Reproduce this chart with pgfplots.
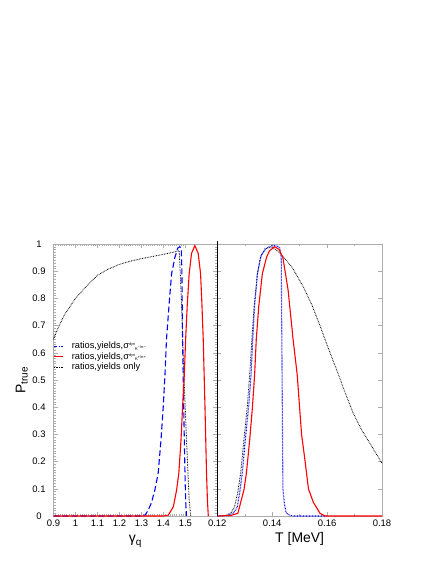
\documentclass[border=0pt]{standalone}
\usepackage{fontspec}
\setmainfont{Liberation Sans}
\usepackage{pgfplots}
\pgfplotsset{compat=1.18}
\newcommand\sig[1]{σ\raisebox{3.2bp}{\fontsize{3.8}{3}\selectfont dyn}\raisebox{-1.6bp}{\fontsize{4.2}{3}\selectfont K}\raisebox{0.9bp}{\fontsize{3.8}{3}\selectfont #1/π#1}}

\begin{document}
\begin{tikzpicture}
\useasboundingbox (0bp,0bp) rectangle (436bp,564bp);
\pgfplotsset{
  every axis/.append style={
    scale only axis, height=272bp, ymin=0, ymax=1, clip=false,
    axis line style={gray!65, line width=0.5bp},
    tick style={gray!65, line width=0.4bp},
    major tick length=4bp, minor tick length=2bp,
    tick align=inside,
    ticklabel style={font=\fontsize{9.5}{10}\selectfont, text=black},
    yticklabel style={anchor=center, xshift=-14.5bp},
    label style={font=\fontsize{14}{16}\selectfont},
    ytick={0,0.1,0.2,0.3,0.4,0.5,0.6,0.7,0.8,0.9,1},
  }
}
\begin{axis}[at={(53.5bp,48bp)}, anchor=south west, width=163.8bp,
  xmin=0.9, xmax=1.645,
  xtick={0.9,1,1.1,1.2,1.3,1.4,1.5},
  xticklabels={0.9,1,1.1,1.2,1.3,1.4,1.5},
  yticklabels={0,0.1,0.2,0.3,0.4,0.5,0.6,0.7,0.8,0.9,1},
  minor x tick num=9, minor y tick num=9,
  xlabel={γ$_{\mbox{\fontsize{10}{10}\selectfont q}}$},
  ylabel={P$_{\mbox{\fontsize{10}{10}\selectfont true}}$},
  xlabel style={at={(axis description cs:0.5,-0.099)}, anchor=base},
  ylabel style={at={(axis description cs:-0.171,0.5)}, anchor=base},
  legend cell align=left,
  legend style={at={(axis description cs:0,0.647)}, anchor=north west,
    draw=none, fill=none, inner sep=0pt, column sep=6bp, row sep=-1.8bp,
    font=\fontsize{9.3}{9}\selectfont},
]
\addlegendimage{legend image code/.code={\draw[blue, line width=1.1bp, dash pattern=on 3bp off 1.5bp on 1bp off 1.5bp] (0bp,0bp) -- (9bp,0bp);}}
\addlegendentry{ratios,yields,\sig{−}}
\addlegendimage{legend image code/.code={\draw[red, line width=1.1bp] (0bp,0bp) -- (9bp,0bp);}}
\addlegendentry{ratios,yields,\sig{+}}
\addlegendimage{legend image code/.code={\draw[black, line width=0.9bp, dash pattern=on 0.7bp off 0.9bp] (0bp,0bp) -- (9bp,0bp);}}
\addlegendentry{ratios,yields only}

\addplot[black, line width=0.85bp, dash pattern=on 0.7bp off 0.9bp, forget plot] coordinates {
(0.9,0.65) (0.92,0.69) (0.95,0.74) (1.0,0.80) (1.05,0.845) (1.1,0.885) (1.15,0.908)
(1.2,0.925) (1.25,0.937) (1.3,0.946) (1.35,0.954) (1.4,0.962) (1.44,0.969) (1.472,0.975)
(1.483,0.77) (1.493,0.52) (1.505,0.28) (1.517,0.06) (1.524,0)};

\addplot[blue, line width=1.1bp, dash pattern=on 6bp off 3bp, forget plot] coordinates {
(0.9,0) (1.30,0) (1.316,0.003) (1.33,0.02) (1.346,0.05) (1.361,0.096) (1.376,0.157)
(1.389,0.28) (1.399,0.40) (1.407,0.52) (1.414,0.65) (1.425,0.77) (1.437,0.89) (1.452,0.95)
(1.465,0.985) (1.475,0.99) (1.481,0.985) (1.484,0.9) (1.487,0.65) (1.491,0.45) (1.495,0.28)
(1.499,0.12) (1.502,0.04) (1.505,0)};

\addplot[red, line width=1.1bp, forget plot] coordinates {
(0.9,0) (1.40,0) (1.422,0.003) (1.445,0.034) (1.46,0.096) (1.47,0.157) (1.48,0.28)
(1.487,0.40) (1.495,0.52) (1.501,0.65) (1.508,0.77) (1.517,0.89) (1.528,0.966) (1.543,0.994)
(1.558,0.966) (1.569,0.89) (1.575,0.78) (1.581,0.65) (1.589,0.40) (1.596,0.157) (1.600,0.06)
(1.604,0)};
\end{axis}

\begin{axis}[at={(217.3bp,48bp)}, anchor=south west, width=164.7bp,
  xmin=0.12, xmax=0.18,
  xtick={0.12,0.14,0.16,0.18},
  xticklabels={0.12,0.14,0.16,0.18},
  yticklabels={},
  minor x tick num=1,
  xlabel={T [MeV]},
  xlabel style={at={(axis description cs:0.5,-0.099)}, anchor=base},
]
\addplot[black, line width=0.85bp, dash pattern=on 0.7bp off 0.9bp] coordinates {
(0.12,0) (0.123,0.002) (0.125,0.012) (0.1263,0.034) (0.1275,0.09) (0.1285,0.157) (0.1297,0.28)
(0.1309,0.40) (0.1318,0.52) (0.1326,0.65) (0.1334,0.77) (0.1346,0.89) (0.1357,0.95)
(0.1373,0.982) (0.1397,0.988) (0.142,0.975) (0.1446,0.947) (0.1475,0.91) (0.1513,0.843)
(0.1545,0.775) (0.1574,0.70) (0.1605,0.615) (0.1635,0.537) (0.1665,0.455) (0.1695,0.378)
(0.1725,0.318) (0.1756,0.267) (0.18,0.194)};

\addplot[blue, line width=1.1bp, dash pattern=on 0.7bp off 0.8bp] coordinates {
(0.12,0) (0.124,0.002) (0.126,0.012) (0.1273,0.034) (0.1282,0.09) (0.1291,0.157) (0.1302,0.28)
(0.1314,0.40) (0.1323,0.52) (0.1329,0.65) (0.1336,0.77) (0.1346,0.89) (0.136,0.96)
(0.138,0.985) (0.1399,0.994) (0.1415,0.993) (0.1427,0.988) (0.1433,0.95) (0.1436,0.52)
(0.1439,0.10) (0.1445,0.04) (0.1451,0.012) (0.1465,0.002) (0.148,0) (0.16,0)};

\addplot[red, line width=1.1bp] coordinates {
(0.12,0) (0.125,0.002) (0.1275,0.01) (0.1297,0.096) (0.1306,0.157) (0.1318,0.28)
(0.1328,0.40) (0.1336,0.52) (0.1342,0.65) (0.1351,0.77) (0.1364,0.89) (0.1379,0.95)
(0.139,0.975) (0.1409,0.99) (0.1425,0.98) (0.1439,0.95) (0.1458,0.83) (0.1476,0.65)
(0.1491,0.52) (0.1507,0.3) (0.152,0.2) (0.1532,0.1) (0.155,0.05) (0.1574,0.01) (0.1592,0)
(0.18,0)};

\draw[black, line width=1.6bp] (rel axis cs:0,0) -- (rel axis cs:0,1.012);
\end{axis}
\end{tikzpicture}
\end{document}
